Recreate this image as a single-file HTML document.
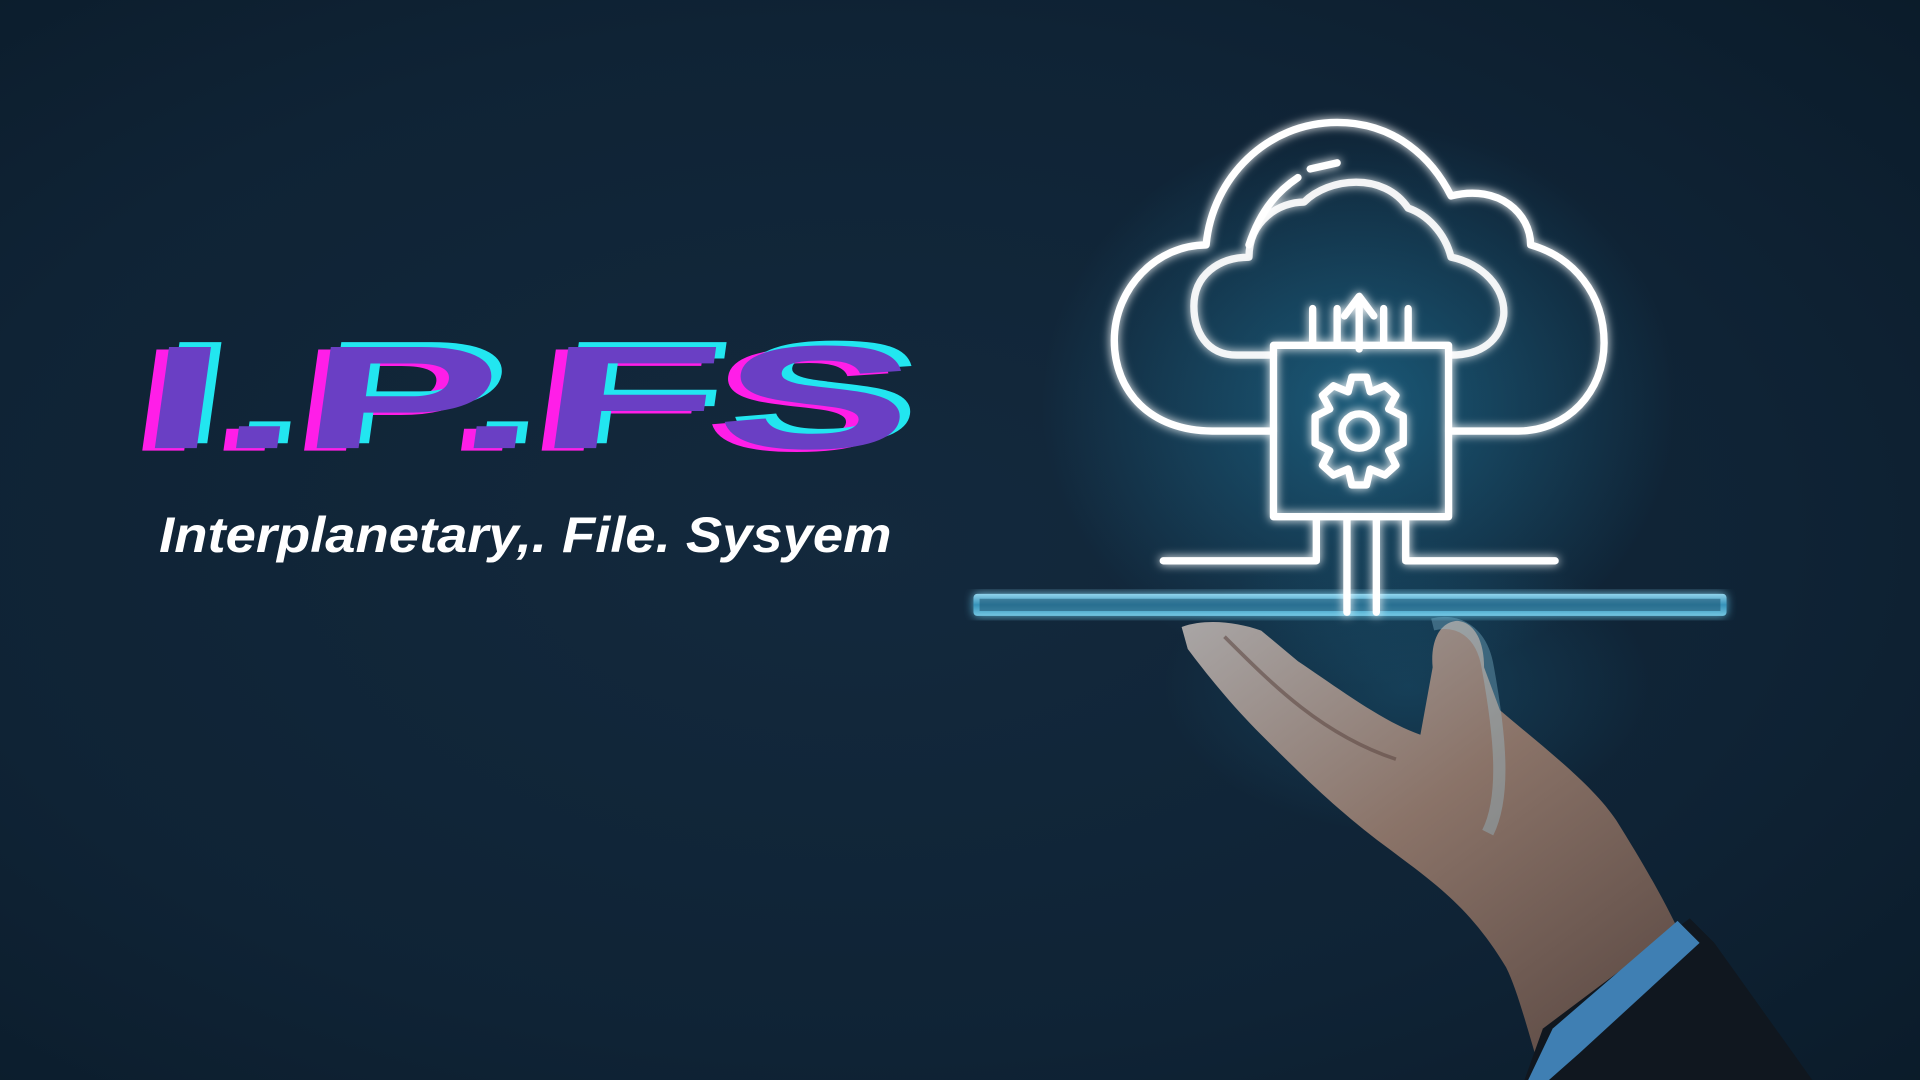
<!DOCTYPE html>
<html><head><meta charset="utf-8"><style>
html,body{margin:0;padding:0;width:1920px;height:1080px;overflow:hidden;background:#0d2131}
svg{display:block}
</style></head><body>
<svg width="1920" height="1080" viewBox="0 0 1568 882" preserveAspectRatio="none" xmlns="http://www.w3.org/2000/svg">
<defs>
<radialGradient id="bg" cx="0.45" cy="0.5" r="0.8">
<stop offset="0" stop-color="#13293d"/><stop offset="0.6" stop-color="#0f2335"/><stop offset="1" stop-color="#0a1a28"/>
</radialGradient>
<radialGradient id="glow" cx="0.5" cy="0.5" r="0.5">
<stop offset="0" stop-color="#2aa8d8" stop-opacity="0.4"/><stop offset="1" stop-color="#2aa8d8" stop-opacity="0"/>
</radialGradient>
<filter id="g" x="-20%" y="-20%" width="140%" height="140%"><feGaussianBlur stdDeviation="4" result="b"/><feMerge><feMergeNode in="b"/><feMergeNode in="SourceGraphic"/></feMerge></filter>
<linearGradient id="skin" x1="0" y1="0" x2="1" y2="1">
<stop offset="0" stop-color="#a9a6a6"/><stop offset="0.4" stop-color="#8a7368"/><stop offset="1" stop-color="#4a3a36"/>
</linearGradient>
<linearGradient id="tab" x1="0" y1="0" x2="0" y2="1">
<stop offset="0" stop-color="#9fe6ff"/><stop offset="0.5" stop-color="#3a9fc8"/><stop offset="1" stop-color="#7fd8f5"/>
</linearGradient>
</defs>
<rect width="1568" height="882" fill="url(#bg)"/>
<ellipse cx="1110" cy="330" rx="260" ry="230" fill="url(#glow)"/>
<ellipse cx="1150" cy="560" rx="200" ry="120" fill="url(#glow)" opacity="0.5"/>

<!-- Title -->
<g font-family="Liberation Sans, sans-serif" font-weight="bold" font-size="120" transform="skewX(-8) translate(48,0)">
<text x="104" y="368" textLength="630" lengthAdjust="spacingAndGlyphs" fill="#ff1ee8">I.P.FS</text>
<text x="122" y="362" textLength="630" lengthAdjust="spacingAndGlyphs" fill="#22e6f0">I.P.FS</text>
<text x="114" y="366" textLength="630" lengthAdjust="spacingAndGlyphs" fill="#6a3fc4">I.P.FS</text>
</g>
<text x="130" y="451" font-family="Liberation Sans, sans-serif" font-weight="bold" font-style="italic" font-size="41" fill="#ffffff" textLength="598" lengthAdjust="spacingAndGlyphs">Interplanetary,. File. Sysyem</text>

<!-- Hand -->
<path d="M965,512 C985,505 1010,508 1030,515 L1060,540 C1090,560 1130,590 1160,600 L1170,545 C1168,525 1175,508 1190,507 C1205,508 1212,525 1212,545 L1225,580 C1260,610 1300,640 1320,670 C1345,710 1365,745 1380,780 L1400,830 L1470,882 L1260,882 C1250,850 1240,810 1230,790 C1200,740 1170,720 1130,690 C1090,660 1060,630 1030,600 C1005,575 985,550 970,530 Z" fill="url(#skin)"/>
<path d="M1000,520 C1040,560 1080,600 1140,620" stroke="#5f4a44" stroke-width="3" fill="none" opacity="0.6"/>
<path d="M1170,510 C1190,505 1210,515 1215,545 C1225,600 1230,650 1215,680" stroke="#9fd7ef" stroke-width="10" fill="none" opacity="0.3"/>
<path d="M1380,750 L1400,770 L1480,882 L1245,882 L1260,840 Z" fill="#10171f"/>
<path d="M1370,752 L1388,770 L1290,860 L1265,882 L1248,882 L1268,840 Z" fill="#3f7fb3"/>

<!-- Tablet -->
<rect x="795" y="485" width="615" height="18" rx="3" fill="url(#tab)" opacity="0.9" filter="url(#g)"/>
<rect x="800" y="489" width="605" height="10" fill="#1f5775" opacity="0.6"/>

<!-- Cloud icon -->
<g stroke="#ffffff" stroke-width="6" fill="none" filter="url(#g)" stroke-linecap="round" stroke-linejoin="round">
<path d="M1040,352 L990,352 C940,352 910,320 910,278 C910,235 945,200 985,200 C990,145 1035,100 1092,100 C1140,100 1170,130 1185,160 C1225,150 1250,175 1250,200 C1285,210 1310,240 1310,280 C1310,320 1280,352 1240,352 L1183,352"/>
<path d="M1040,290 L1010,290 C985,290 975,270 975,250 C975,225 995,210 1020,210 C1020,180 1045,165 1065,165 C1085,145 1130,140 1150,170 C1165,175 1180,190 1185,210 C1210,215 1230,235 1228,258 C1225,278 1210,290 1185,290" stroke-opacity="0.9"/>
<path d="M1020,200 C1030,170 1045,155 1060,145" />
<path d="M1070,138 L1092,133"/>
<rect x="1040" y="282" width="143" height="140"/>
<path d="M1072,282 L1072,252 M1092,282 L1092,252 M1130,282 L1130,252 M1150,282 L1150,252"/>
<path d="M1110,285 L1110,245 M1098,258 L1110,242 L1122,258"/>
<path d="M1075,422 L1075,458 L950,458 M1148,422 L1148,458 L1270,458"/>
<path d="M1100,422 L1100,500 M1124,422 L1124,500"/>
<circle cx="1110" cy="352" r="14"/>
<path d="M1104,308 L1116,308 L1119,320 L1131,315 L1140,323 L1134,334 L1146,340 L1146,362 L1134,368 L1140,380 L1131,388 L1119,383 L1116,396 L1104,396 L1101,383 L1089,388 L1080,380 L1086,368 L1074,362 L1074,340 L1086,334 L1080,323 L1089,315 L1101,320 Z"/>
</g>
</svg>
</body></html>
